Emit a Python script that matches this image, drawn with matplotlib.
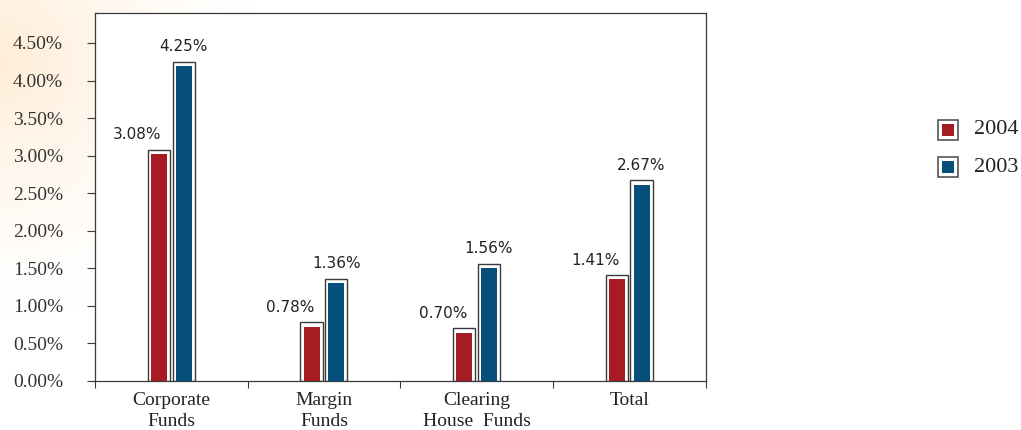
import numpy as np
import matplotlib
matplotlib.use('Agg')
import matplotlib.pyplot as plt
from matplotlib.patches import Rectangle

# data
categories = ['Corporate\nFunds', 'Margin\nFunds', 'Clearing\nHouse  Funds', 'Total']
vals_2004 = [3.08, 0.78, 0.70, 1.41]
vals_2003 = [4.25, 1.36, 1.56, 2.67]
series_names = ['2004', '2003']
yticks = [0.0, 0.5, 1.0, 1.5, 2.0, 2.5, 3.0, 3.5, 4.0, 4.5]

red = '#A61C22'
blue = '#054F7A'
edge = '#3a3a3a'

fig = plt.figure(figsize=(10.21, 4.30), dpi=100)

# faint warm tint at top-left of the page
bg = fig.add_axes([0, 0, 1, 1], zorder=-10)
gx, gy = np.meshgrid(np.linspace(0, 1021, 300), np.linspace(0, 430, 130))
d = np.sqrt((gx / 260.0) ** 2 + ((gy - 60) / 260.0) ** 2)
w = np.clip(1 - d, 0, 1) ** 1.5
img = np.ones((130, 300, 3))
img[..., 1] = 1 - 0.07 * w
img[..., 2] = 1 - 0.16 * w
bg.imshow(img, extent=[0, 1, 0, 1], aspect='auto', origin='upper')
bg.axis('off')

ax = fig.add_axes([0.093, 0.114, 0.598, 0.856])
ax.set_facecolor('white')

x = np.arange(len(categories))
off = 0.081
bw = 0.145
inner_w = 0.105
inset = 0.055

for i, (vals, col) in enumerate([(vals_2004, red), (vals_2003, blue)]):
    pos = x - off if i == 0 else x + off
    ax.bar(pos, vals, width=bw, color='white', edgecolor=edge, linewidth=1.0, zorder=2)
    ax.bar(pos, [v - inset for v in vals], width=inner_w, color=col, linewidth=0, zorder=3)
    for p, v in zip(pos, vals):
        dx = -0.14 if i == 0 else 0.0
        ax.text(p + dx, v + 0.1, '%.2f%%' % v, ha='center', va='bottom',
                fontsize=11, family='DejaVu Sans', color='#222222')

ax.set_xlim(-0.5, 3.5)
ax.set_ylim(0, 4.9)

ax.set_yticks(yticks)
ax.set_yticklabels(['%.2f%%' % t for t in yticks], family='Liberation Serif',
                   fontsize=14, color='#333333')
ax.tick_params(axis='y', direction='out', length=6, width=0.8, color=edge, pad=17)

# ticks at the category boundaries, labels at the centres
ax.set_xticks(np.arange(-0.5, 4.0, 1.0))
ax.set_xticklabels([])
ax.tick_params(axis='x', which='major', direction='out', length=5, width=0.8, color=edge)
ax.set_xticks(x, minor=True)
ax.set_xticklabels(categories, minor=True, family='Liberation Serif',
                   fontsize=14, color='#222222', linespacing=1.3)
ax.tick_params(axis='x', which='minor', length=0, pad=8)

for s in ax.spines.values():
    s.set_color(edge)
    s.set_linewidth(0.9)

# legend drawn by hand
for j, (name, col) in enumerate(zip(series_names, [red, blue])):
    yc = 1 - (130 + 37 * j) / 430.0
    fig.patches.append(Rectangle((938 / 1021.0, yc - 10 / 430.0), 20 / 1021.0, 20 / 430.0,
                                 transform=fig.transFigure, facecolor='white',
                                 edgecolor='#555555', linewidth=1.2))
    fig.patches.append(Rectangle((942 / 1021.0, yc - 6 / 430.0), 12 / 1021.0, 12 / 430.0,
                                 transform=fig.transFigure, facecolor=col,
                                 edgecolor='none'))
    fig.text(974 / 1021.0, yc, name, family='Liberation Serif', fontsize=16,
             va='center', ha='left', color='#222222')

fig.savefig('out.png', dpi=100)
